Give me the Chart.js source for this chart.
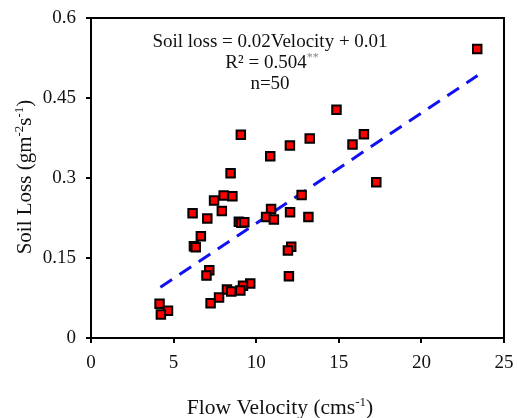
<!DOCTYPE html>
<html>
<head>
<meta charset="utf-8">
<script src="https://cdn.jsdelivr.net/npm/chart.js@4.4.1/dist/chart.umd.min.js"></script>
<style>
  html, body { margin: 0; padding: 0; background: #ffffff; }
  #wrap { width: 517px; height: 418px; }
</style>
</head>
<body>
<div id="wrap"><canvas id="c" width="517" height="418"></canvas></div>
<script>
// ---- data ----
const velocity = [23.38, 14.86, 9.07, 16.52, 13.24, 12.04, 15.83, 10.85, 8.45, 17.27,
                  8.03, 8.56, 12.75, 7.45, 7.92, 10.90, 6.15, 12.05, 7.04, 13.16,
                  10.60, 11.07, 8.95, 9.10, 9.28, 6.65, 6.23, 6.34, 12.12, 11.92,
                  7.16, 6.99, 11.98, 9.64, 9.20, 8.23, 8.49, 9.04, 7.75, 7.24,
                  4.15, 4.66, 4.23];
const soilLoss = [0.542, 0.428, 0.381, 0.382, 0.374, 0.361, 0.363, 0.341, 0.309, 0.292,
                  0.267, 0.266, 0.268, 0.258, 0.238, 0.242, 0.234, 0.236, 0.224, 0.227,
                  0.227, 0.222, 0.218, 0.216, 0.217, 0.191, 0.172, 0.170, 0.171, 0.164,
                  0.127, 0.117, 0.116, 0.102, 0.098, 0.091, 0.087, 0.089, 0.076, 0.065,
                  0.064, 0.051, 0.044];
const trendX = [4.2, 23.4];
const trendY = [0.095, 0.492];
const xTicks = [0, 5, 10, 15, 20, 25];
const yTicks = [0, 0.15, 0.3, 0.45, 0.6];
const yTickLabels = ['0', '0.15', '0.3', '0.45', '0.6'];
const xTickLabels = ['0', '5', '10', '15', '20', '25'];
const annotationLines = ['Soil loss = 0.02Velocity + 0.01', 'R\u00b2 = 0.504', 'n=50'];

const FONT = '"Liberation Serif", "Times New Roman", serif';

const points = velocity.map((v, i) => ({ x: v, y: soilLoss[i] }));
const trend = trendX.map((v, i) => ({ x: v, y: trendY[i] }));

function drawRich(ctx, segs, x, y, size, align) {
  const supSize = Math.round(size * 0.62);
  let total = 0;
  segs.forEach(s => {
    ctx.font = (s.sup ? supSize : size) + 'px ' + FONT;
    s.w = ctx.measureText(s.t).width;
    total += s.w;
  });
  let cx = align === 'center' ? x - total / 2 : x;
  segs.forEach(s => {
    ctx.font = (s.sup ? supSize : size) + 'px ' + FONT;
    ctx.fillStyle = s.color || '#111';
    ctx.fillText(s.t, cx, s.sup ? y - size * 0.38 : y);
    cx += s.w;
  });
}

const decor = {
  id: 'decor',
  afterDraw(chart) {
    const ctx = chart.ctx;
    const a = chart.chartArea;
    ctx.save();
    // frame (top & right)
    ctx.strokeStyle = '#000';
    ctx.lineWidth = 2;
    ctx.beginPath();
    ctx.moveTo(a.left, a.top);
    ctx.lineTo(a.right, a.top);
    ctx.lineTo(a.right, a.bottom);
    ctx.stroke();
    ctx.textBaseline = 'alphabetic';
    // annotation
    const cx = 270;
    drawRich(ctx, [{ t: annotationLines[0] }], cx, 47, 19, 'center');
    drawRich(ctx, [{ t: annotationLines[1] }, { t: '**', sup: true, color: '#888' }], cx + 2, 68, 19, 'center');
    drawRich(ctx, [{ t: annotationLines[2] }], cx, 89, 19, 'center');
    // x title
    drawRich(ctx, [{ t: 'Flow Velocity (cms' }, { t: '-1', sup: true }, { t: ')' }], 280, 414, 21.5, 'center');
    // y title
    ctx.translate(31, 177);
    ctx.rotate(-Math.PI / 2);
    drawRich(ctx, [{ t: 'Soil Loss (gm' }, { t: '-2', sup: true }, { t: 's' }, { t: '-1', sup: true }, { t: ')' }], 0, 0, 21, 'center');
    ctx.restore();
  }
};

new Chart(document.getElementById('c'), {
  type: 'scatter',
  data: {
    datasets: [
      {
        type: 'scatter',
        data: points,
        pointStyle: 'rect',
        pointRadius: 6,
        pointHoverRadius: 6,
        backgroundColor: '#ff0000',
        borderColor: '#000000',
        borderWidth: 2,
        order: 1
      },
      {
        type: 'line',
        data: trend,
        borderColor: '#1010f0',
        borderWidth: 3,
        borderDash: [14, 9],
        pointRadius: 0,
        fill: false,
        order: 2
      }
    ]
  },
  options: {
    responsive: false,
    animation: false,
    layout: { padding: { left: 0, right: 13, top: 18, bottom: 0 } },
    plugins: { legend: { display: false }, tooltip: { enabled: false } },
    scales: {
      x: {
        type: 'linear', min: 0, max: 25,
        afterBuildTicks(s) { s.ticks = xTicks.map(v => ({ value: v })); },
        ticks: {
          callback: (v) => xTickLabels[xTicks.indexOf(v)] ?? '',
          font: { family: FONT, size: 19 }, color: '#111', padding: 9, maxRotation: 0
        },
        grid: { drawOnChartArea: false, drawTicks: true, tickLength: 5, color: '#000', lineWidth: 2 },
        border: { color: '#000', width: 2 },
        afterFit(s) { s.height = 80; s.paddingLeft = 0; s.paddingRight = 0; }
      },
      y: {
        type: 'linear', min: 0, max: 0.6,
        afterBuildTicks(s) { s.ticks = yTicks.map(v => ({ value: v })); },
        ticks: {
          callback: (v) => { const i = yTicks.findIndex(t => Math.abs(t - v) < 1e-9); return i >= 0 ? yTickLabels[i] : ''; },
          font: { family: FONT, size: 19 }, color: '#111', padding: 10
        },
        grid: { drawOnChartArea: false, drawTicks: true, tickLength: 5, color: '#000', lineWidth: 2 },
        border: { color: '#000', width: 2 },
        afterFit(s) { s.width = 91; s.paddingTop = 0; s.paddingBottom = 0; }
      }
    }
  },
  plugins: [decor]
});
</script>
</body>
</html>
